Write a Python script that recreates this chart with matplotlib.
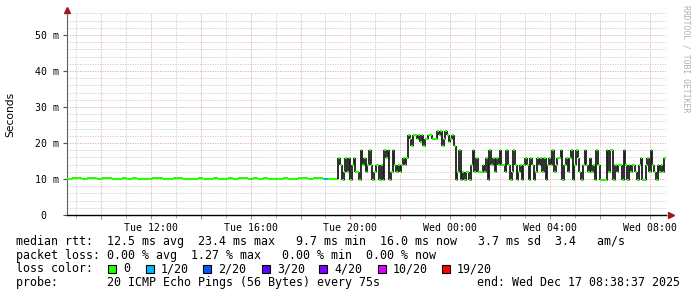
import matplotlib
matplotlib.use("Agg")
import matplotlib.pyplot as plt
from matplotlib.patches import Rectangle
from matplotlib.ticker import MultipleLocator
import numpy as np

W, H = 697, 297

# hours since Tue 00:00
t_start = 8 + 38 / 60 + 37 / 3600
t_end = t_start + 24
t_busy = 19.52

# quiet period, median rtt in ms
quiet_ms = [9.9, 10.2, 10.2, 9.9, 10.2, 10.2, 9.9, 10.2, 10.2, 9.9,
            9.9, 10.2, 9.9, 10.2, 9.9, 9.9, 9.9, 10.2, 10.2, 9.9,
            9.9, 10.2, 10.2, 9.9, 9.9, 9.9, 10.2, 9.9, 9.9, 10.2,
            9.9, 9.9, 10.2, 9.9, 10.2, 10.2, 9.9, 10.2, 9.9, 10.2,
            9.9, 9.9, 9.9, 10.2, 9.9, 9.9, 10.2, 10.2, 9.9, 10.2,
            10.2, 9.9, 9.9, 9.9]
# lost pings (out of 20) for the quiet period
quiet_loss = [0] * 51 + [1] + [0] * 2

# busy period, median rtt in ms
busy_ms = [
    15.9, 13.9, 9.8, 11.9, 15.9, 11.9, 15.9, 9.8, 13.9, 15.9,
    11.9, 11.9, 9.8, 18.0, 13.9, 15.9, 11.9, 13.9, 18.0, 13.9,
    9.8, 11.9, 13.9, 13.9, 9.8, 13.9, 9.8, 18.0, 15.9, 18.0,
    9.8, 11.9, 18.0, 13.9, 11.9, 13.9, 11.9, 13.9, 15.9, 13.9,
    15.9, 22.2, 21.1, 19.3, 22.2,
    22.2, 21.1, 22.2, 20.2, 22.2, 19.3, 21.1, 21.1, 22.2, 22.2,
    21.1, 21.1, 21.1, 23.4, 22.2, 23.2, 19.3, 21.1, 23.2, 22.2,
    20.2, 21.1, 22.2, 19.3,
    9.8, 11.9, 18.0, 9.8, 11.9, 9.8, 11.9, 11.9, 9.8, 13.9,
    18.0, 11.9, 15.9, 11.9, 11.9, 11.9, 13.9, 11.9, 15.9, 9.8,
    18.0, 13.9, 15.9, 11.9, 15.9, 13.9, 18.0, 13.9,
    13.9, 11.9, 18.0, 13.9, 9.8, 11.9, 18.0, 13.9, 9.8,
    11.9, 13.9, 9.8, 13.9, 15.9, 13.9, 9.8, 15.9, 13.9, 9.8,
    11.9, 15.9, 13.9, 15.9, 11.9, 15.9, 9.8, 13.9, 15.9,
    13.9, 18.0, 11.9, 13.9, 15.9, 15.9, 18.0, 9.8, 13.9, 15.9,
    11.9, 15.9, 18.0, 9.8, 13.9, 18.0, 15.9, 11.9, 9.8,
    13.9,
    18.0, 13.9, 11.9, 15.9, 11.9, 13.9, 9.8, 18.0, 13.9, 9.8,
    9.8, 9.8, 9.8, 18.0, 11.9, 18.0, 18.0, 9.8, 13.9, 11.9,
    13.9, 13.9, 9.8, 18.0, 13.9, 9.8, 13.9, 11.9, 13.9, 13.9,
    11.9, 9.8, 13.9, 15.9, 9.8, 9.8, 13.9, 15.9, 11.9, 18.0,
    13.9, 11.9, 9.8, 13.9, 11.9, 13.9, 11.9, 15.9,
]

y_ticks = [0, 10, 20, 30, 40, 50]
y_labels = ["0  ", "10 m", "20 m", "30 m", "40 m", "50 m"]
x_ticks = [12, 16, 20, 24, 28, 32]
x_labels = ["Tue 12:00", "Tue 16:00", "Tue 20:00", "Wed 00:00", "Wed 04:00", "Wed 08:00"]

loss_labels = ["0", "1/20", "2/20", "3/20", "4/20", "10/20", "19/20"]
loss_colors = ["#26ff00", "#00b8ff", "#0059ff", "#5e00ff", "#7e00ff", "#dd00ff", "#ff0000"]
loss_box_x = [108, 146, 203, 262, 319, 378, 442]

legend_lines = [
    "median rtt:  12.5 ms avg  23.4 ms max   9.7 ms min  16.0 ms now   3.7 ms sd  3.4   am/s",
    "packet loss: 0.00 % avg  1.27 % max   0.00 % min  0.00 % now",
    "loss color:",
    "probe:       20 ICMP Echo Pings (56 Bytes) every 75s",
]
end_text = "end: Wed Dec 17 08:38:37 2025"

MONO = "DejaVu Sans Mono"

fig = plt.figure(figsize=(W / 100, H / 100), dpi=100)
fig.patch.set_facecolor("white")
ax = fig.add_axes([67 / W, (H - 215) / H, 599 / W, 201.6 / H])
ax.set_xlim(t_start, t_end)
ax.set_ylim(0, 56)

# grid
ax.xaxis.set_major_locator(MultipleLocator(2))
ax.xaxis.set_minor_locator(MultipleLocator(1))
ax.yaxis.set_major_locator(MultipleLocator(10))
ax.yaxis.set_minor_locator(MultipleLocator(2))
ax.grid(which="minor", color="#c8c8c8", lw=0.6, linestyle=(0, (1.5, 1.5)))
ax.grid(which="major", color="#e0a8a8", lw=0.6, linestyle=(0, (1.5, 1.5)))
ax.set_axisbelow(True)

ax.set_xticks(np.arange(10, 33, 2))
ax.set_xticklabels([x_labels[x_ticks.index(t)] if t in x_ticks else "" for t in range(10, 33, 2)],
                   family=MONO, fontsize=7.1)
ax.set_yticks(y_ticks)
ax.set_yticklabels(y_labels, family=MONO, fontsize=7.1)
ax.tick_params(axis="x", which="major", length=3, color="#d08080", pad=2.5)
ax.tick_params(axis="x", which="minor", length=2, color="#a0a0a0")
ax.tick_params(axis="y", which="major", length=3, color="#505050", pad=2.8)
ax.tick_params(axis="y", which="minor", length=0)

for side in ["top", "right"]:
    ax.spines[side].set_visible(False)
ax.spines["left"].set_color("#606060")
ax.spines["bottom"].set_color("black")
ax.spines["bottom"].set_linewidth(1.0)
ax.spines["left"].set_linewidth(0.8)
ax.plot([0], [1.015], marker="^", ms=4, color="#a01818", transform=ax.transAxes, clip_on=False)
ax.plot([1.008], [0], marker=">", ms=4, color="#a01818", transform=ax.transAxes, clip_on=False)

# quiet period
qe = np.linspace(t_start, t_busy, len(quiet_ms) + 1)
qc = [loss_colors[loss_labels.index("%d/20" % l)] if l else loss_colors[0] for l in quiet_loss]
ax.hlines(quiet_ms, qe[:-1], qe[1:], colors=qc, lw=1.5, zorder=3)
ax.vlines(qe[1:-1], quiet_ms[:-1], quiet_ms[1:], colors=loss_colors[0], lw=1.0, zorder=3)

# busy period: smoke then median
be = np.linspace(t_busy, t_end, len(busy_ms) + 1)
vals = [quiet_ms[-1]] + busy_ms
ax.vlines(be[:-1], vals[:-1], vals[1:], colors="#1e1e1e", lw=1.3, zorder=3)
ax.hlines(busy_ms, be[:-1], be[1:], colors="#1e1e1e", lw=0.6, zorder=3)
ax.hlines(busy_ms, be[:-1], be[1:], colors=loss_colors[0], lw=1.5, zorder=4)


# legend text, positions in pixels
def fx(x):
    return x / W


def fy(y):
    return 1 - y / H


fig.text(fx(10), fy(114), "Seconds", fontsize=7.7, rotation=90, ha="center", va="center")

line_y = [241.5, 255, 269, 282.5]
for txt, y in zip(legend_lines, line_y):
    fig.text(fx(16), fy(y), txt, family=MONO, fontsize=8.4, va="center", ha="left")

for lbl, col, bx in zip(loss_labels, loss_colors, loss_box_x):
    fig.add_artist(Rectangle((fx(bx), fy(273)), 8 / W, 8 / H, transform=fig.transFigure,
                             facecolor=col, edgecolor="black", lw=0.8))
    fig.text(fx(bx + 15), fy(line_y[2]), lbl, family=MONO, fontsize=8.4, va="center", ha="left")

fig.text(fx(680), fy(line_y[3]), end_text, family=MONO, fontsize=8.4, va="center", ha="right")

fig.text(fx(686), fy(5), "RRDTOOL / TOBI OETIKER", family=MONO, fontsize=5.9,
         color="#b0b0b0", rotation=270, va="top", ha="center")

fig.savefig("out.png", dpi=100)
